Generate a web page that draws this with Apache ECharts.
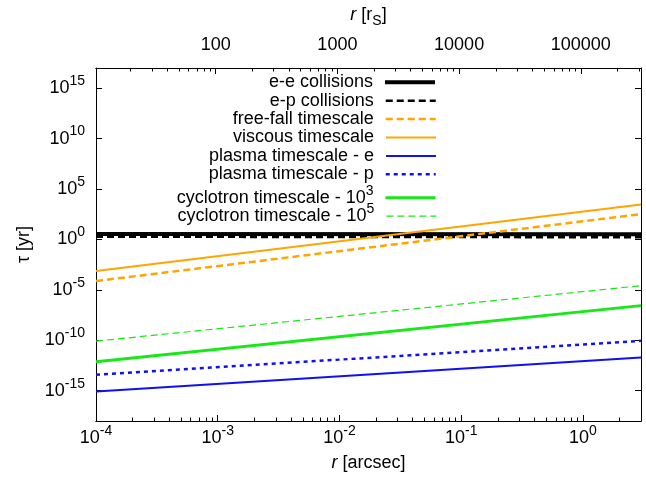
<!DOCTYPE html>
<html>
<head>
<meta charset="utf-8">
<script src="https://cdn.jsdelivr.net/npm/echarts@6/dist/echarts.min.js"></script>
<style>
  html, body { margin: 0; padding: 0; background: #fff; }
  #chart { width: 646px; height: 477px; }
</style>
</head>
<body>
<div id="chart"></div>
<script>
// Radius range of the curves, in arcsec (end points of each power law)
const rArcsec = [1e-4, 3];
// Conversion from arcsec to Schwarzschild radii
const RS_PER_ARCSEC = 1.04e5;

// Timescales in years at the two radii above
const tauEE = [3.55, 3.3];
const tauEP = [1.86, 1.66];
const tauFreeFall = [7.6e-5, 324];
const tauViscous = [7.4e-4, 2950];
const tauPlasmaE = [8.5e-16, 1.95e-12];
const tauPlasmaP = [3.8e-14, 8.9e-11];
const tauCyc3 = [7.4e-13, 2.75e-7];
const tauCyc5 = [8.3e-11, 2.6e-5];

const seriesNames = [
  'e-e collisions', 'e-p collisions', 'free-fall timescale', 'viscous timescale',
  'plasma timescale - e', 'plasma timescale - p',
  'cyclotron timescale - 10^3', 'cyclotron timescale - 10^5'
];
const seriesTau = [tauEE, tauEP, tauFreeFall, tauViscous, tauPlasmaE, tauPlasmaP, tauCyc3, tauCyc5];

// Axis ticks
const xTickExp = [-4, -3, -2, -1, 0];
const yTickExp = [-15, -10, -5, 0, 5, 10, 15];
const yRangeExp = [-18, 17];
const rsTicks = [100, 1000, 10000, 100000];

const FONT = '"Liberation Sans", Arial, Helvetica, sans-serif';
const ORANGE = '#ffa500';
const BLUE = '#1010f0';
const GREEN = '#18e818';

const styles = [
  { color: '#000', width: 4, type: 'solid' },
  { color: '#000', width: 2.5, type: [7, 4] },
  { color: ORANGE, width: 2.5, type: [7, 4] },
  { color: ORANGE, width: 2, type: 'solid' },
  { color: BLUE, width: 2, type: 'solid' },
  { color: BLUE, width: 2.5, type: [4, 4] },
  { color: GREEN, width: 3, type: 'solid' },
  { color: GREEN, width: 1.2, type: [7, 4] }
];

const lg = Math.log10;

// Minor log ticks (2..9 per decade) within a log10 range
function minorTicks(lo, hi) {
  const out = [];
  for (let n = Math.floor(lo) - 1; n <= Math.ceil(hi); n++) {
    for (let k = 2; k <= 9; k++) {
      const v = n + lg(k);
      if (v > lo && v < hi) out.push(v);
    }
  }
  return out;
}

const supRich = {
  b: { fontSize: 18, fontFamily: FONT, color: '#000', lineHeight: 18, verticalAlign: 'bottom' },
  s: { fontSize: 14, fontFamily: FONT, color: '#000', lineHeight: 14, verticalAlign: 'bottom', padding: [0, 0, 9, 0] }
};
const powLabel = v => '{b|10}{s|' + Math.round(v) + '}';

const xMin = lg(rArcsec[0]), xMax = lg(rArcsec[1]);
const x2Min = lg(rArcsec[0] * RS_PER_ARCSEC), x2Max = lg(rArcsec[1] * RS_PER_ARCSEC);

const axisLine = { show: true, onZero: false, lineStyle: { color: '#000', width: 1 } };
const noLabel = { show: false };

const xAxes = [
  {
    type: 'value', position: 'bottom', min: xMin, max: xMax, gridIndex: 0,
    axisLine, splitLine: { show: false },
    axisTick: { inside: true, length: 6, customValues: xTickExp, lineStyle: { color: '#000' } },
    axisLabel: { customValues: xTickExp, formatter: powLabel, rich: supRich, margin: 8 },
    name: '{i|r} [arcsec]', nameLocation: 'middle', nameGap: 33,
    nameTextStyle: { fontSize: 18, fontFamily: FONT, color: '#000',
      rich: { i: { fontSize: 18, fontStyle: 'italic', fontFamily: FONT, color: '#000' } } }
  },
  {
    type: 'value', position: 'bottom', min: xMin, max: xMax, gridIndex: 0,
    axisLine, splitLine: { show: false },
    axisTick: { inside: true, length: 3.5, customValues: minorTicks(xMin, xMax), lineStyle: { color: '#000' } },
    axisLabel: noLabel
  },
  {
    type: 'value', position: 'top', min: x2Min, max: x2Max, gridIndex: 0,
    axisLine, splitLine: { show: false },
    axisTick: { inside: true, length: 6, customValues: rsTicks.map(lg), lineStyle: { color: '#000' } },
    axisLabel: { customValues: rsTicks.map(lg), formatter: v => String(Math.round(Math.pow(10, v))),
      fontSize: 18, fontFamily: FONT, color: '#000', margin: 14 },
    name: '{i|r} [r{sub|S}]', nameLocation: 'middle', nameGap: 44,
    nameTextStyle: { fontSize: 18, fontFamily: FONT, color: '#000',
      rich: {
        i: { fontSize: 18, fontStyle: 'italic', fontFamily: FONT, color: '#000' },
        sub: { fontSize: 14, fontFamily: FONT, color: '#000', verticalAlign: 'top', padding: [8, 0, 0, 0], lineHeight: 14 }
      } }
  },
  {
    type: 'value', position: 'top', min: x2Min, max: x2Max, gridIndex: 0,
    axisLine, splitLine: { show: false },
    axisTick: { inside: true, length: 3.5, customValues: minorTicks(x2Min, x2Max), lineStyle: { color: '#000' } },
    axisLabel: noLabel
  }
];

const yAxes = [
  {
    type: 'value', position: 'left', min: yRangeExp[0], max: yRangeExp[1],
    axisLine, splitLine: { show: false },
    axisTick: { inside: true, length: 6, customValues: yTickExp, lineStyle: { color: '#000' } },
    axisLabel: { customValues: yTickExp, formatter: powLabel, rich: supRich, margin: 11 },
    name: 'τ [yr]', nameLocation: 'middle', nameGap: 63,
    nameTextStyle: { fontSize: 18, fontFamily: FONT, color: '#000' }
  },
  {
    type: 'value', position: 'right', min: yRangeExp[0], max: yRangeExp[1],
    axisLine, splitLine: { show: false },
    axisTick: { inside: true, length: 6, customValues: yTickExp, lineStyle: { color: '#000' } },
    axisLabel: noLabel
  }
];

const series = seriesNames.map((name, i) => ({
  name,
  type: 'line',
  xAxisIndex: 0,
  yAxisIndex: 0,
  symbol: 'none',
  silent: true,
  animation: false,
  lineStyle: { color: styles[i].color, width: styles[i].width, type: styles[i].type, cap: 'butt' },
  itemStyle: { color: styles[i].color },
  data: rArcsec.map((r, j) => [lg(r), lg(seriesTau[i][j])])
}));

// One right-anchored key entry per curve: text right-aligned, sample line after it
const keyTop = 83.3, keyStep = 18.4;
const legends = seriesNames.map((name, i) => ({
  data: [name],
  orient: 'vertical',
  right: 646 - 437,
  top: keyTop + i * keyStep - 10,
  padding: 0,
  align: 'right',
  itemWidth: 50,
  itemHeight: 20,
  selectedMode: false,
  itemStyle: { opacity: 0, borderWidth: 0 },
  lineStyle: { width: styles[i].width },
  formatter: n => n.replace(/\^(\d+)/, '{s|$1}'),
  textStyle: {
    fontSize: 18, fontFamily: FONT, color: '#000', padding: [0, 7, 0, 0],
    rich: {
      s: { fontSize: 14, fontFamily: FONT, color: '#000', lineHeight: 14, verticalAlign: 'bottom', padding: [0, 0, 9, 0] }
    }
  }
}));

const chart = echarts.init(document.getElementById('chart'), null, { renderer: 'canvas' });
chart.setOption({
  animation: false,
  backgroundColor: '#fff',
  textStyle: { fontFamily: FONT },
  grid: { left: 96, right: 5, top: 68, bottom: 56, containLabel: false },
  legend: legends,
  xAxis: xAxes,
  yAxis: yAxes,
  series
});
</script>
</body>
</html>
